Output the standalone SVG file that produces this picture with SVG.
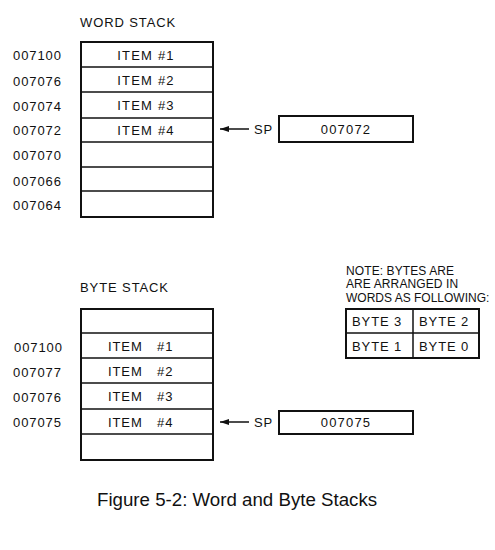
<svg xmlns="http://www.w3.org/2000/svg" width="495" height="550" viewBox="0 0 495 550">
<defs>
<marker id="ah" markerWidth="9" markerHeight="6" refX="9" refY="3" orient="auto" markerUnits="userSpaceOnUse">
<path d="M0,0 L9,3 L0,6 Z" fill="#111"/>
</marker>
<style>
text{font-family:"Liberation Sans",Arial,sans-serif;fill:#111}
.lbl{font-size:13px;letter-spacing:0.9px}
.it{font-size:13px;letter-spacing:1.2px;text-anchor:middle}
.nt{font-size:12px;letter-spacing:0.1px}
.cell{fill:#fff;stroke:#111;stroke-width:2}
.ln{stroke:#111;stroke-width:1.5;fill:none}
.cap{font-size:18.7px}
</style>
</defs>
<rect width="495" height="550" fill="#fff"/>

<g id="word-stack">
<text class="lbl" x="80" y="27">WORD STACK</text>
<rect class="cell" x="81" y="42" width="132" height="175"/>
<line class="ln" x1="81" y1="67" x2="213" y2="67"/>
<line class="ln" x1="81" y1="92" x2="213" y2="92"/>
<line class="ln" x1="81" y1="118" x2="213" y2="118"/>
<line class="ln" x1="81" y1="142" x2="213" y2="142"/>
<line class="ln" x1="81" y1="167" x2="213" y2="167"/>
<line class="ln" x1="81" y1="191" x2="213" y2="191"/>
<text class="it" x="146" y="60">ITEM  #1</text>
<text class="it" x="146" y="85">ITEM  #2</text>
<text class="it" x="146" y="110">ITEM  #3</text>
<text class="it" x="146" y="135">ITEM  #4</text>
<text class="lbl" x="13" y="60">007100</text>
<text class="lbl" x="13" y="86">007076</text>
<text class="lbl" x="13" y="111">007074</text>
<text class="lbl" x="13" y="135">007072</text>
<text class="lbl" x="13" y="160">007070</text>
<text class="lbl" x="13" y="186">007066</text>
<text class="lbl" x="13" y="210">007064</text>
</g>

<g id="word-sp">
<text class="lbl" x="254" y="134">SP</text>
<rect class="cell" x="279" y="116" width="134" height="26"/>
<text class="it" x="346" y="134">007072</text>
</g>

<g id="byte-stack">
<text class="lbl" x="80" y="292">BYTE STACK</text>
<rect class="cell" x="81" y="309" width="132" height="151"/>
<line class="ln" x1="81" y1="333" x2="213" y2="333"/>
<line class="ln" x1="81" y1="358" x2="213" y2="358"/>
<line class="ln" x1="81" y1="383" x2="213" y2="383"/>
<line class="ln" x1="81" y1="409" x2="213" y2="409"/>
<line class="ln" x1="81" y1="434" x2="213" y2="434"/>
<text class="lbl" x="108" y="351">ITEM</text><text class="lbl" x="157" y="351">#1</text>
<text class="lbl" x="108" y="376">ITEM</text><text class="lbl" x="157" y="376">#2</text>
<text class="lbl" x="108" y="401">ITEM</text><text class="lbl" x="157" y="401">#3</text>
<text class="lbl" x="108" y="427">ITEM</text><text class="lbl" x="157" y="427">#4</text>
<text class="lbl" x="14" y="352">007100</text>
<text class="lbl" x="13" y="377">007077</text>
<text class="lbl" x="13" y="402">007076</text>
<text class="lbl" x="13" y="427">007075</text>
</g>

<g id="byte-sp">
<text class="lbl" x="254" y="427">SP</text>
<rect class="cell" x="279" y="411" width="134" height="23"/>
<text class="it" x="346" y="427">007075</text>
</g>

<g id="note">
<text class="nt" x="346" y="275">NOTE: BYTES ARE</text>
<text class="nt" x="346" y="288">ARE ARRANGED IN</text>
<text class="nt" x="346" y="302" style="letter-spacing:0">WORDS AS FOLLOWING:</text>
<rect class="cell" x="346" y="309" width="133" height="49"/>
<line class="ln" x1="346" y1="333" x2="479" y2="333"/>
<line class="ln" x1="413" y1="309" x2="413" y2="358"/>
<text class="lbl" x="352" y="326">BYTE 3</text>
<text class="lbl" x="419" y="326">BYTE 2</text>
<text class="lbl" x="352" y="351">BYTE 1</text>
<text class="lbl" x="419" y="351">BYTE 0</text>
</g>

<g id="connectors">
<line class="ln" x1="249" y1="129" x2="220" y2="129" marker-end="url(#ah)"/>
<line class="ln" x1="249" y1="422" x2="220" y2="422" marker-end="url(#ah)"/>
</g>

<g id="caption">
<text class="cap" x="97" y="506">Figure 5-2: Word and Byte Stacks</text>
</g>
</svg>
